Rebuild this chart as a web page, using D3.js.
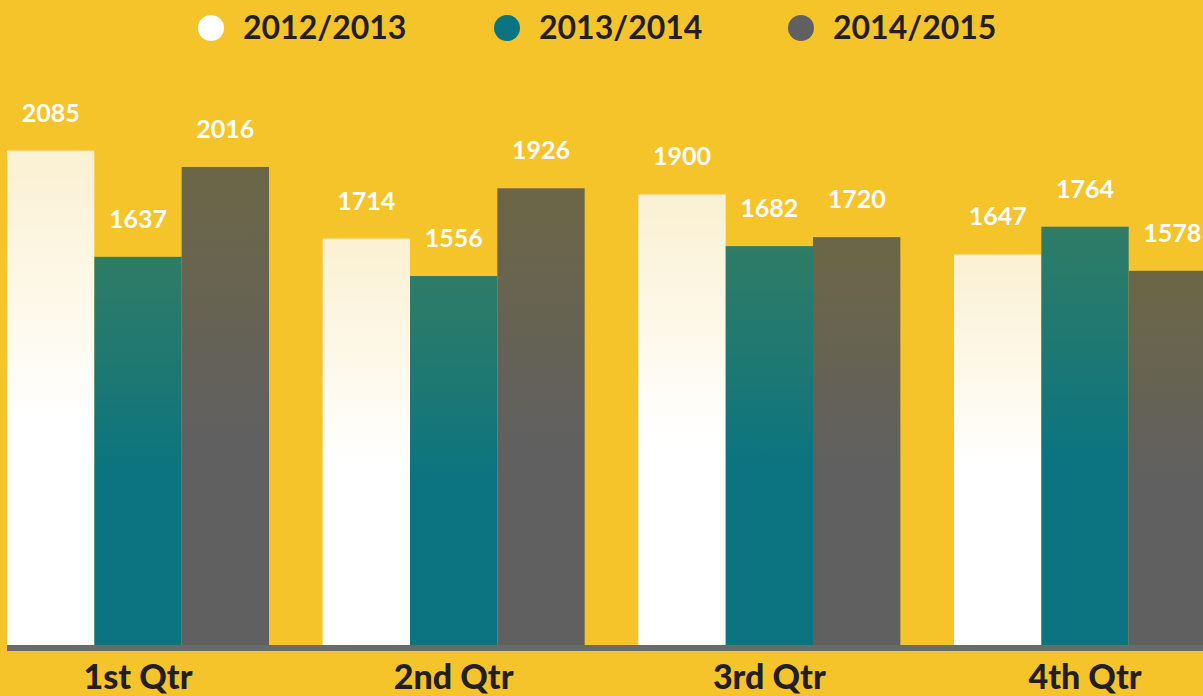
<!DOCTYPE html>
<html>
<head>
<meta charset="utf-8">
<script src="https://cdn.jsdelivr.net/npm/d3@7"></script>
<style>
  html, body { margin: 0; padding: 0; background: #F5C42A; }
  svg { display: block; }
</style>
</head>
<body>
<script>
// quarters on the x axis
const QUARTERS = ["1st Qtr", "2nd Qtr", "3rd Qtr", "4th Qtr"];
// one entry per season, values by quarter
const SEASONS = ["2012/2013", "2013/2014", "2014/2015"];
const VALUES_2012 = [2085, 1714, 1900, 1647];
const VALUES_2013 = [1637, 1556, 1682, 1764];
const VALUES_2014 = [2016, 1926, 1720, 1578];

const seriesValues = [VALUES_2012, VALUES_2013, VALUES_2014];
const colors = ["#FFFFFF", "#0B7480", "#606060"];
// top-of-bar tints (the original has a painted texture)
const tints = ["#FAF0D2", "#2F7C66", "#6C6646"];

const width = 1203;
const height = 696;
const baseY = 645;

const rows = [];
QUARTERS.forEach(function (q, i) {
  SEASONS.forEach(function (s, j) {
    rows.push({ quarter: q, season: s, idx: j, value: seriesValues[j][i] });
  });
});

// band scale for the quarter groups
const x0 = d3.scaleBand()
  .domain(QUARTERS)
  .range([7, 1216])
  .paddingInner(0.17)
  .paddingOuter(0);

const x1 = d3.scaleBand()
  .domain(SEASONS)
  .range([0, x0.bandwidth()])
  .padding(0);

const y = d3.scaleLinear()
  .domain([0, 2720])
  .range([baseY, 0]);

const svg = d3.select("body").append("svg")
  .attr("width", width)
  .attr("height", height);

svg.append("rect")
  .attr("width", width)
  .attr("height", height)
  .attr("fill", "#F5C42A");

// gradients for a hint of the texture
const defs = svg.append("defs");
SEASONS.forEach(function (s, j) {
  let g = defs.append("linearGradient")
    .attr("id", "grad" + j)
    .attr("x1", 0).attr("y1", 0)
    .attr("x2", 0).attr("y2", 1);
  g.append("stop").attr("offset", "0%").attr("stop-color", tints[j]);
  g.append("stop").attr("offset", "30%").attr("stop-color", d3.interpolateRgb(tints[j], colors[j])(0.5));
  g.append("stop").attr("offset", "55%").attr("stop-color", colors[j]);
  g.append("stop").attr("offset", "100%").attr("stop-color", colors[j]);
});

// bars
svg.append("g").selectAll("rect")
  .data(rows)
  .enter()
    .append("rect")
    .attr("x", function (d) { return x0(d.quarter) + x1(d.season); })
    .attr("y", function (d) { return y(d.value); })
    .attr("width", x1.bandwidth())
    .attr("height", function (d) { return baseY - y(d.value); })
    .attr("fill", function (d) { return "url(#grad" + d.idx + ")"; });

// value labels
svg.append("g").selectAll("text")
  .data(rows)
  .enter()
    .append("text")
    .attr("x", function (d) { return x0(d.quarter) + x1(d.season) + x1.bandwidth() / 2; })
    .attr("y", function (d) { return y(d.value) - 29; })
    .attr("text-anchor", "middle")
    .attr("fill", "#FFFFFF")
    .attr("font-family", "Lato, sans-serif")
    .attr("font-weight", 700)
    .attr("font-size", "25px")
    .text(function (d) { return d.value; });

// baseline
svg.append("rect")
  .attr("x", 7)
  .attr("y", baseY)
  .attr("width", width - 7)
  .attr("height", 6)
  .attr("fill", "#6A6A68");

// quarter labels
svg.append("g").selectAll("text")
  .data(QUARTERS)
  .enter()
    .append("text")
    .attr("x", function (d) { return x0(d) + x0.bandwidth() / 2; })
    .attr("y", 689)
    .attr("text-anchor", "middle")
    .attr("fill", "#231F20")
    .attr("font-family", "Lato, sans-serif")
    .attr("font-weight", 900)
    .attr("font-size", "34px")
    .text(function (d) { return d; });

// legend
const legendX = [211, 507, 801];
let legend = svg.append("g").selectAll("g")
  .data(SEASONS)
  .enter()
    .append("g")
    .attr("transform", function (d, i) { return "translate(" + legendX[i] + ",28)"; });

legend.append("circle")
  .attr("r", 13)
  .attr("fill", function (d, i) { return colors[i]; });

legend.append("text")
  .attr("x", 32)
  .attr("y", 11)
  .attr("fill", "#231F20")
  .attr("font-family", "Lato, sans-serif")
  .attr("font-weight", 700)
  .attr("font-size", "32px")
  .text(function (d) { return d; });
</script>
</body>
</html>
